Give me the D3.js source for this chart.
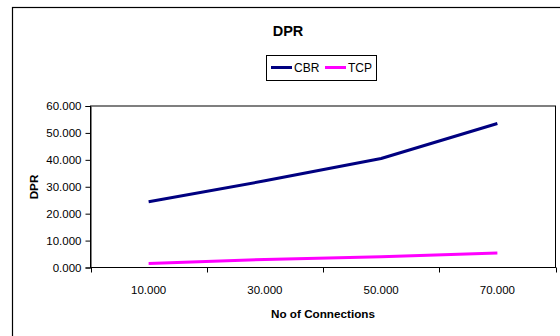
<!DOCTYPE html>
<html>
<head>
<meta charset="utf-8">
<script src="https://cdn.jsdelivr.net/npm/d3@7/dist/d3.min.js"></script>
<style>
  html, body { margin: 0; padding: 0; background: #fff; }
  svg { display: block; font-family: "Liberation Sans", Arial, sans-serif; }
</style>
</head>
<body>
<svg id="chart" width="560" height="336"></svg>
<script>
// Data
const categories = ["10.000", "30.000", "50.000", "70.000"];
const cbrValues = [24.4, 32.2, 40.5, 53.5];
const tcpValues = [1.5, 3.0, 4.0, 5.4];
const yTicks = [0, 10, 20, 30, 40, 50, 60];
const seriesNames = ["CBR", "TCP"];
const seriesColors = ["#000080", "#FF00FF"];

const svg = d3.select("#chart");

// Outer chart frame (runs off the right and bottom edges)
svg.append("rect")
  .attr("x", 12.5).attr("y", 7.5)
  .attr("width", 600).attr("height", 400)
  .attr("fill", "#fff")
  .attr("stroke", "#000").attr("stroke-width", 1.2);

const plot = { left: 90.5, right: 555.5, top: 106, bottom: 267.5 };

const x = d3.scaleBand().domain(categories).range([plot.left, plot.right]).padding(0);
const y = d3.scaleLinear().domain([0, 60]).range([plot.bottom, plot.top]);

// Plot area border
svg.append("rect")
  .attr("x", plot.left).attr("y", plot.top)
  .attr("width", plot.right - plot.left).attr("height", plot.bottom - plot.top)
  .attr("fill", "none").attr("stroke", "#000").attr("stroke-width", 1);

// Y axis
const yAxis = d3.axisLeft(y).tickValues(yTicks).tickFormat(d3.format(".3f")).tickSizeOuter(0).tickSize(5).tickPadding(4);
const gy = svg.append("g").attr("transform", `translate(${plot.left},0)`).call(yAxis);
gy.attr("font-family", null).attr("font-size", null);
gy.selectAll("text").attr("font-size", 11.5).attr("fill", "#000");
gy.selectAll("line, path").attr("stroke", "#000");

// X axis: ticks on band boundaries, labels at band centres
const boundaries = categories.map(c => x(c)).concat([plot.right]);
const gx = svg.append("g");
gx.append("line")
  .attr("x1", plot.left).attr("x2", plot.right)
  .attr("y1", plot.bottom).attr("y2", plot.bottom)
  .attr("stroke", "#000");
gx.selectAll("line.tick").data(boundaries).enter().append("line")
  .attr("class", "tick")
  .attr("x1", d => Math.round(d) + 0.5).attr("x2", d => Math.round(d) + 0.5)
  .attr("y1", plot.bottom).attr("y2", plot.bottom + 5)
  .attr("stroke", "#000");
gx.selectAll("text").data(categories).enter().append("text")
  .attr("x", d => x(d) + x.bandwidth() / 2)
  .attr("y", 293.5)
  .attr("text-anchor", "middle")
  .attr("font-size", 11.5)
  .text(d => d);

// Lines
const line = d3.line()
  .x((d, i) => x(categories[i]) + x.bandwidth() / 2)
  .y(d => y(d));

[cbrValues, tcpValues].forEach((vals, i) => {
  svg.append("path")
    .datum(vals)
    .attr("d", line)
    .attr("fill", "none")
    .attr("stroke", seriesColors[i])
    .attr("stroke-width", 3)
    .attr("stroke-linejoin", "round");
});

// Title
svg.append("text")
  .attr("x", 288).attr("y", 35.7)
  .attr("text-anchor", "middle")
  .attr("font-size", 14.5).attr("font-weight", "bold")
  .text("DPR");

// Legend
const legend = svg.append("g");
legend.append("rect")
  .attr("x", 266.5).attr("y", 55.5)
  .attr("width", 110).attr("height", 25)
  .attr("fill", "#fff").attr("stroke", "#000");
const legendItems = [
  { name: seriesNames[0], color: seriesColors[0], x: 271 },
  { name: seriesNames[1], color: seriesColors[1], x: 325 }
];
legendItems.forEach(it => {
  legend.append("line")
    .attr("x1", it.x).attr("x2", it.x + 21)
    .attr("y1", 67.5).attr("y2", 67.5)
    .attr("stroke", it.color).attr("stroke-width", 3);
  legend.append("text")
    .attr("x", it.x + 23).attr("y", 72)
    .attr("font-size", 12)
    .text(it.name);
});

// Axis titles
svg.append("text")
  .attr("transform", "translate(38,187) rotate(-90)")
  .attr("text-anchor", "middle")
  .attr("font-size", 11.7).attr("font-weight", "bold")
  .text("DPR");

svg.append("text")
  .attr("x", 323).attr("y", 318.3)
  .attr("text-anchor", "middle")
  .attr("font-size", 11.7).attr("font-weight", "bold")
  .text("No of Connections");
</script>
</body>
</html>
